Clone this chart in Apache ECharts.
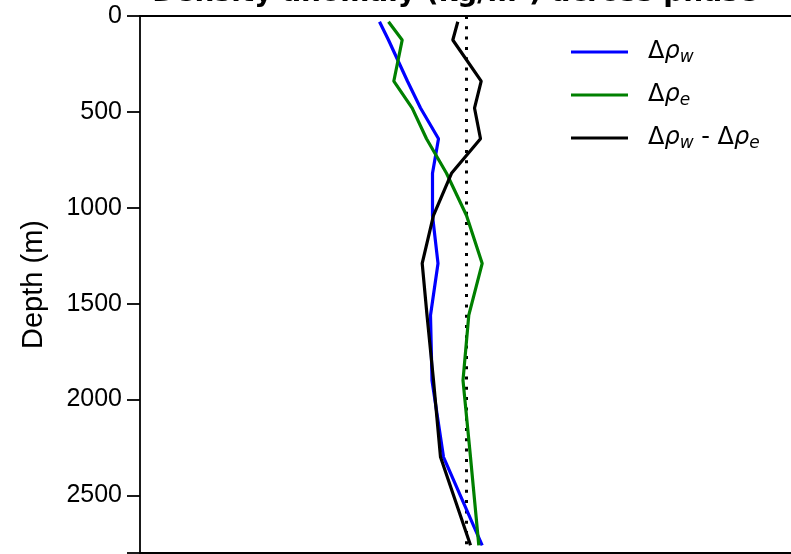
<!DOCTYPE html>
<html><head><meta charset="utf-8">
<script src="https://cdn.jsdelivr.net/npm/echarts@6/dist/echarts.min.js"></script>
<style>html,body{margin:0;padding:0;background:#fff}#c{width:791px;height:554px}</style>
</head><body><div id="c"></div>
<script>
// depth levels (m)
const depths = [30, 125, 340, 480, 640, 820, 1040, 1290, 1560, 1900, 2300, 2760];
// density anomaly west
const rhoW = [-0.87, -0.78, -0.59, -0.46, -0.28, -0.34, -0.34, -0.285, -0.36, -0.345, -0.23, 0.157];
// density anomaly east
const rhoE = [-0.78, -0.643, -0.727, -0.543, -0.40, -0.20, 0.00, 0.157, 0.023, -0.035, 0.04, 0.123];
// difference west - east
const rhoDiff = [-0.087, -0.137, 0.147, 0.08, 0.14, -0.15, -0.33, -0.443, -0.395, -0.33, -0.26, 0.04];
// zero reference line
const zeroLine = [[0, 0], [0, 2760]];
const yTicks = [0, 500, 1000, 1500, 2000, 2500];
const seriesNames = ['west', 'east', 'diff'];
const legendLabels = {
  west: '{d|Δ}{r|ρ}{s|w}',
  east: '{d|Δ}{r|ρ}{s|e}',
  diff: '{d|Δ}{r|ρ}{s|w}{m| - Δ}{r|ρ}{s|e}'
};

function pairs(xs) { return xs.map((v, i) => [v, depths[i]]); }

const chart = echarts.init(document.getElementById('c'));
const axisX = (pos) => ({
  type: 'value', position: pos, min: -3.265, max: 3.245,
  axisLine: { show: true, onZero: false, lineStyle: { color: '#000', width: 1.8 } },
  axisTick: { show: false }, axisLabel: { show: false }, splitLine: { show: false }
});
chart.setOption({
  animation: false,
  backgroundColor: '#fff',
  title: {
    text: 'Density anomaly (kg/m³) across phase',
    left: 455, top: -20, textAlign: 'center', padding: 0,
    textStyle: { fontFamily: 'DejaVu Sans', fontWeight: 'bold', fontSize: 28, color: '#000' }
  },
  grid: { left: 140, right: 0, top: 16, bottom: 1, containLabel: false },
  xAxis: [axisX('top'), axisX('bottom')],
  yAxis: {
    type: 'value', inverse: true, min: 0, max: 2800, interval: 500,
    name: 'Depth (m)', nameLocation: 'middle', nameGap: 92,
    nameTextStyle: { fontFamily: 'Liberation Sans', fontSize: 29, color: '#000' },
    axisLine: { show: true, onZero: false, lineStyle: { color: '#000', width: 1.8 } },
    axisTick: { show: true, length: 13, lineStyle: { color: '#000', width: 1.8 } },
    axisLabel: {
      fontFamily: 'Liberation Sans', fontSize: 25, color: '#000', margin: 18,
      formatter: (v) => (yTicks.indexOf(v) >= 0 ? String(v) : '')
    },
    splitLine: { show: false }
  },
  legend: {
    orient: 'vertical', left: 571, top: 38, padding: 0,
    itemWidth: 57, itemHeight: 3, itemGap: 15, icon: 'rect',
    data: seriesNames,
    formatter: (n) => legendLabels[n],
    textStyle: {
      color: '#000', fontFamily: 'DejaVu Sans', fontSize: 24, lineHeight: 28,
      rich: {
        d: { fontFamily: 'DejaVu Sans', fontSize: 24, color: '#000', padding: [0, 0, 0, 15] },
        m: { fontFamily: 'DejaVu Sans', fontSize: 24, color: '#000' },
        r: { fontFamily: 'DejaVu Sans', fontStyle: 'italic', fontSize: 24, color: '#000' },
        s: { fontFamily: 'DejaVu Sans', fontStyle: 'italic', fontSize: 17, color: '#000', padding: [11, 0, 0, 0] }
      }
    }
  },
  series: [
    { name: 'zero', type: 'line', data: zeroLine, symbol: 'none', silent: true,
      lineStyle: { color: '#000', width: 3, type: [3, 7.3], cap: 'butt' }, z: 1 },
    { name: 'west', type: 'line', data: pairs(rhoW), symbol: 'none', color: '#0000ff',
      lineStyle: { color: '#0000ff', width: 3.2 }, z: 2 },
    { name: 'east', type: 'line', data: pairs(rhoE), symbol: 'none', color: '#008000',
      lineStyle: { color: '#008000', width: 3.2 }, z: 3 },
    { name: 'diff', type: 'line', data: pairs(rhoDiff), symbol: 'none', color: '#000000',
      lineStyle: { color: '#000000', width: 3.2 }, z: 4 }
  ]
});
</script></body></html>
